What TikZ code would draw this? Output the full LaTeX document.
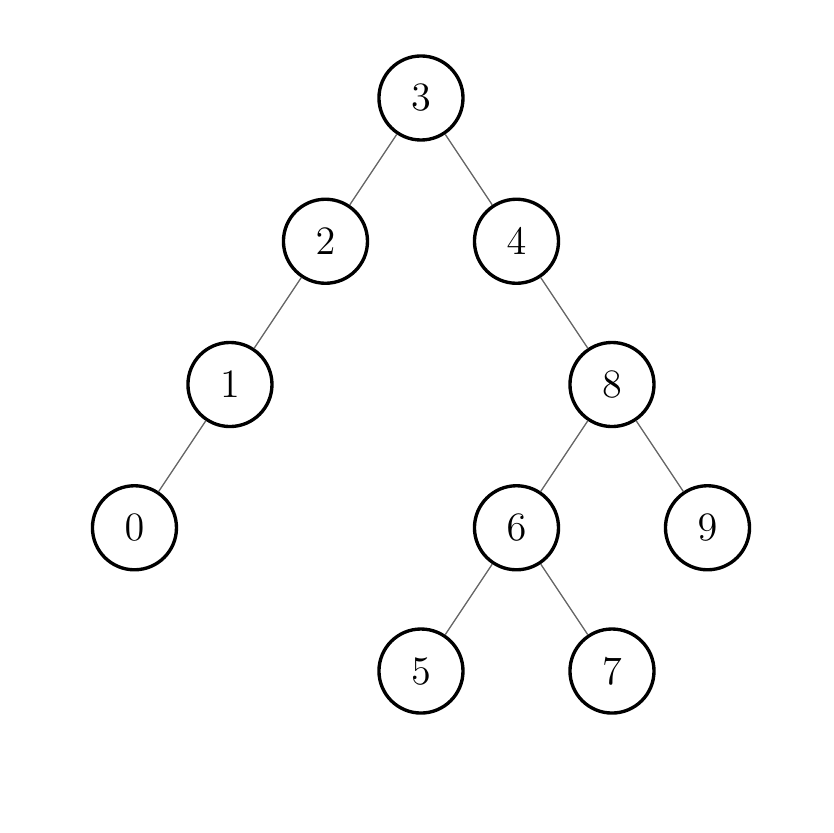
\documentclass[tikz,border=0pt]{standalone}
\usetikzlibrary{positioning}

\begin{document}
\begin{tikzpicture}[
    vertex/.style={draw, circle, line width=1pt, minimum size=0.88cm, inner sep=0pt, font=\large},
    edge/.style={draw=black!60, line width=0.4pt}
]
\useasboundingbox (-4.408,-7.696) rectangle (4.314,1.026);

% Tree nodes
\node[vertex] (n3) at (0,0) {$3$};
\node[vertex] (n2) at (-1,-1.5) {$2$};
\node[vertex] (n4) at (1,-1.5) {$4$};
\node[vertex] (n1) at (-2,-3) {$1$};
\node[vertex] (n8) at (2,-3) {$8$};
\node[vertex] (n0) at (-3,-4.5) {$0$};
\node[vertex] (n6) at (1,-4.5) {$6$};
\node[vertex] (n9) at (3,-4.5) {$9$};
\node[vertex] (n5) at (0,-6) {$5$};
\node[vertex] (n7) at (2,-6) {$7$};

% Edges
\draw[edge] (n3) -- (n2);
\draw[edge] (n3) -- (n4);
\draw[edge] (n2) -- (n1);
\draw[edge] (n1) -- (n0);
\draw[edge] (n4) -- (n8);
\draw[edge] (n8) -- (n6);
\draw[edge] (n8) -- (n9);
\draw[edge] (n6) -- (n5);
\draw[edge] (n6) -- (n7);

\end{tikzpicture}
\end{document}
